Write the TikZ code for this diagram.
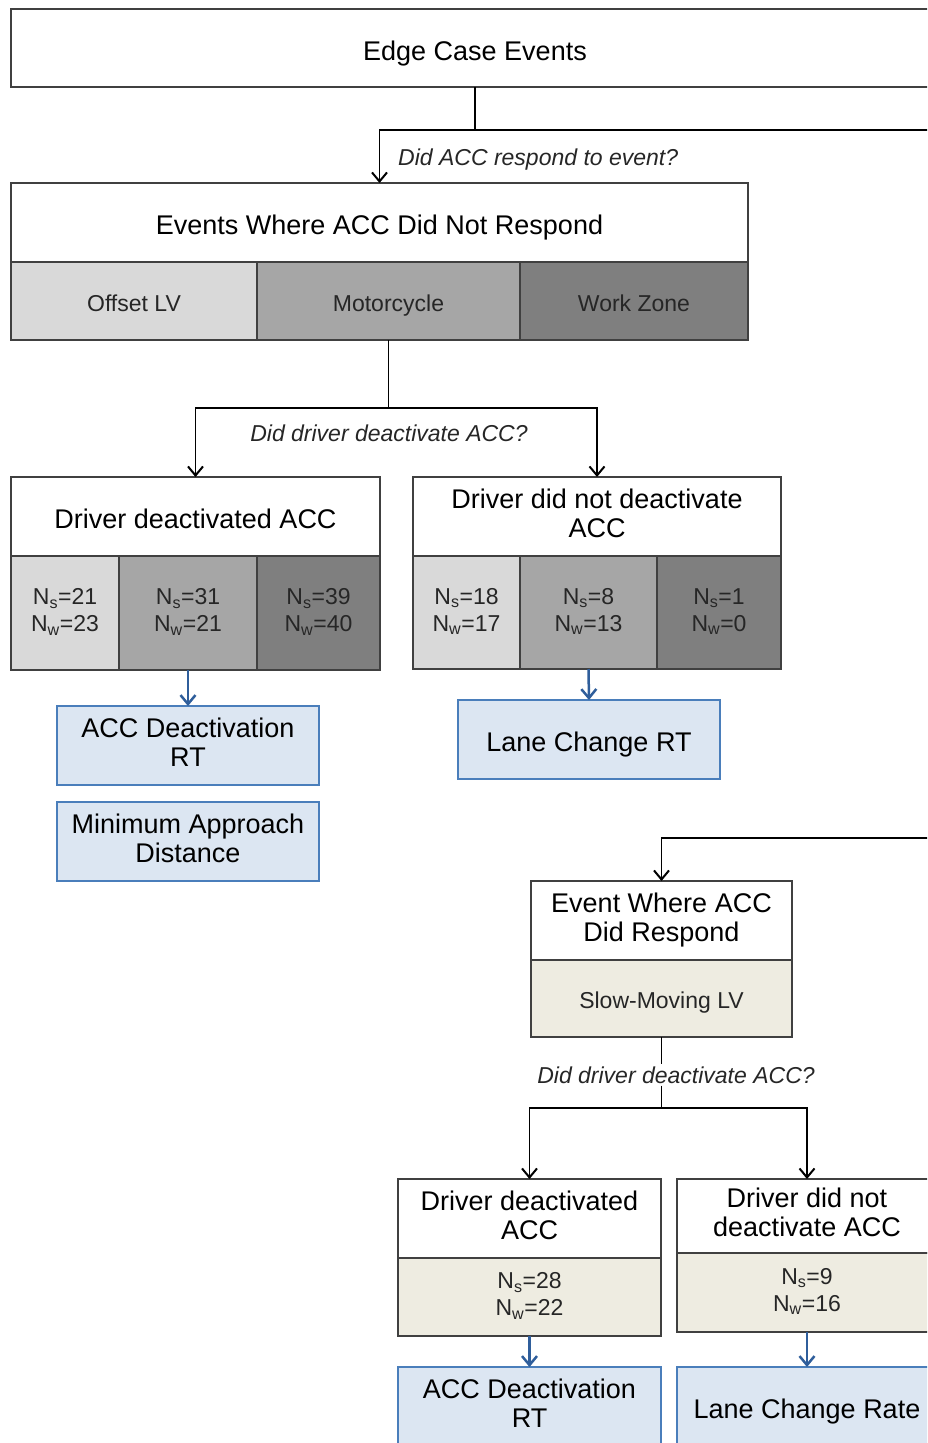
\documentclass[tikz,border=0pt]{standalone}
\usepackage{fontspec}
\setmainfont{Liberation Sans}
\usetikzlibrary{arrows.meta,positioning}
\definecolor{lightcell}{HTML}{D9D9D9}
\definecolor{midcell}{HTML}{A6A6A6}
\definecolor{darkcell}{HTML}{7F7F7F}
\definecolor{beigecell}{HTML}{EEECE1}
\definecolor{measfill}{HTML}{DCE6F2}
\definecolor{measline}{HTML}{4A7EBB}
\definecolor{measarrow}{HTML}{2F5E9B}
\definecolor{boxline}{HTML}{404040}
\newcommand{\topstrut}{\rule{0pt}{1.15em}}
\newcommand{\botstrut}{\rule[-0.25em]{0pt}{0.25em}}
\tikzset{
	head/.style = {draw = boxline, line width = 1.8pt, fill = white, anchor = north west, outer sep = 0pt,
		minimum height = 79pt, align = center, inner sep = 2pt, font = \fontsize{27}{29}\selectfont,
		execute at begin node = \topstrut, execute at end node = \botstrut},
	cell/.style = {draw = boxline, line width = 1.8pt, anchor = north west, outer sep = 0pt,
		align = center, inner sep = 2pt, text = black!85, font = \fontsize{23}{27}\selectfont,
		execute at begin node = \topstrut, execute at end node = \botstrut},
	measure/.style = {draw = measline, line width = 1.8pt, fill = measfill, anchor = north west, outer sep = 0pt,
		minimum height = 79pt, align = center, inner sep = 2pt, font = \fontsize{27}{29}\selectfont,
		execute at begin node = \topstrut, execute at end node = \botstrut},
	stacked/.style = {execute at begin node = \rule{0pt}{1.5em}},
	question/.style = {text = black!85, inner sep = 2pt, font = \fontsize{23}{25}\selectfont\itshape},
	flow/.style = {-{Straight Barb[length = 9pt, width = 15pt, line width = 2pt]}, line width = 1.8pt},
	result/.style = {-{Straight Barb[length = 9pt, width = 15pt, line width = 2.5pt]}, line width = 2.5pt, draw = measarrow}
}
\newcommand{\counts}[2]{N\textsubscript{s}=#1\\N\textsubscript{w}=#2}

\begin{document}
\begin{tikzpicture}[x = 1pt, y = -1pt]
		\path [use as bounding box, clip] (0,0) rectangle (927,1443);

		\node [head, minimum width = 928pt, minimum height = 78pt] (edge) at (11,9) {Edge Case Events};

		% events where ACC did not respond
		\node [head, minimum width = 737pt] (noresp) at (11,183) {Events Where ACC Did Not Respond};
		\node [cell, fill = lightcell, minimum width = 246pt, minimum height = 78pt] (offset) at (noresp.south west) {Offset LV};
		\node [cell, fill = midcell, minimum width = 263pt, minimum height = 78pt] (moto) at (offset.north east) {Motorcycle};
		\node [cell, fill = darkcell, minimum width = 228pt, minimum height = 78pt] (work) at (moto.north east) {Work Zone};

		\draw [flow] (edge.south) -- ++(0,43) coordinate (fork0) -| (noresp.north);
		\node [question, anchor = west] (q0) at (396,160) {Did ACC respond to event?};

		\node [head, minimum width = 369pt] (deact) at (11,477) {Driver deactivated ACC};
		\node [cell, stacked, fill = lightcell, minimum width = 108pt, minimum height = 114pt] (dlight) at (deact.south west) {\counts{21}{23}};
		\node [cell, stacked, fill = midcell, minimum width = 138pt, minimum height = 114pt] (dmid) at (dlight.north east) {\counts{31}{21}};
		\node [cell, stacked, fill = darkcell, minimum width = 123pt, minimum height = 114pt] (ddark) at (dmid.north east) {\counts{39}{40}};

		\node [head, stacked, minimum width = 368pt] (nodeact) at (413,477) {Driver did not deactivate\\ACC};
		\node [cell, stacked, fill = lightcell, minimum width = 107pt, minimum height = 113pt] (nlight) at (nodeact.south west) {\counts{18}{17}};
		\node [cell, stacked, fill = midcell, minimum width = 137pt, minimum height = 113pt] (nmid) at (nlight.north east) {\counts{8}{13}};
		\node [cell, stacked, fill = darkcell, minimum width = 124pt, minimum height = 113pt] (ndark) at (nmid.north east) {\counts{1}{0}};

		\draw (moto.south) -- ++(0,68) coordinate (fork1);
		\draw [flow] (fork1) -| (deact.north);
		\draw [flow] (fork1) -| (nodeact.north);
		\node [question] (q1) at (389,433) {Did driver deactivate ACC?};

		\node [measure, stacked, minimum width = 262pt] (accrt) at (57,706) {ACC Deactivation\\RT};
		\node [measure, stacked, minimum width = 262pt, below = 17pt of accrt] (mad) {Minimum Approach\\Distance};
		\node [measure, minimum width = 262pt] (lcrt) at (458,700) {Lane Change RT};
		\draw [result] (dmid.south) -- (accrt.north);
		\draw [result] (nmid.south) -- (lcrt.north);

		% event where ACC did respond
		\node [head, stacked, minimum width = 261pt] (resp) at (531,881) {Event Where ACC\\Did Respond};
		\node [cell, fill = beigecell, minimum width = 261pt, minimum height = 77pt] (slow) at (resp.south west) {Slow-Moving LV};
		\draw [flow] (fork0) -- (960,130) -- (960,838) -| (resp.north);

		\node [head, stacked, minimum width = 263pt] (deact2) at (398,1179) {Driver deactivated\\ACC};
		\node [cell, stacked, fill = beigecell, minimum width = 263pt, minimum height = 78pt] (dslow) at (deact2.south west) {\counts{28}{22}};
		\node [head, stacked, minimum width = 260pt, minimum height = 74pt] (nodeact2) at (677,1179) {Driver did not\\deactivate ACC};
		\node [cell, stacked, fill = beigecell, minimum width = 260pt, minimum height = 79pt] (nslow) at (nodeact2.south west) {\counts{9}{16}};

		\node [question] (q2) at (676,1075) {Did driver deactivate ACC?};
		\path (slow.south) ++(0,71) coordinate (fork2);
		\draw (slow.south) -- (slow.south |- q2.north);
		\draw (fork2 |- q2.south) -- (fork2);
		\draw [flow] (fork2) -| (deact2.north);
		\draw [flow] (fork2) -| (nodeact2.north);

		\node [measure, stacked, minimum width = 263pt] (accrt2) at (398,1367) {ACC Deactivation\\RT};
		\node [measure, minimum width = 260pt] (lcr) at (677,1367) {Lane Change Rate};
		\draw [result] (dslow.south) -- (accrt2.north);
		\draw [result] (nslow.south) -- (lcr.north);
\end{tikzpicture}
\end{document}
